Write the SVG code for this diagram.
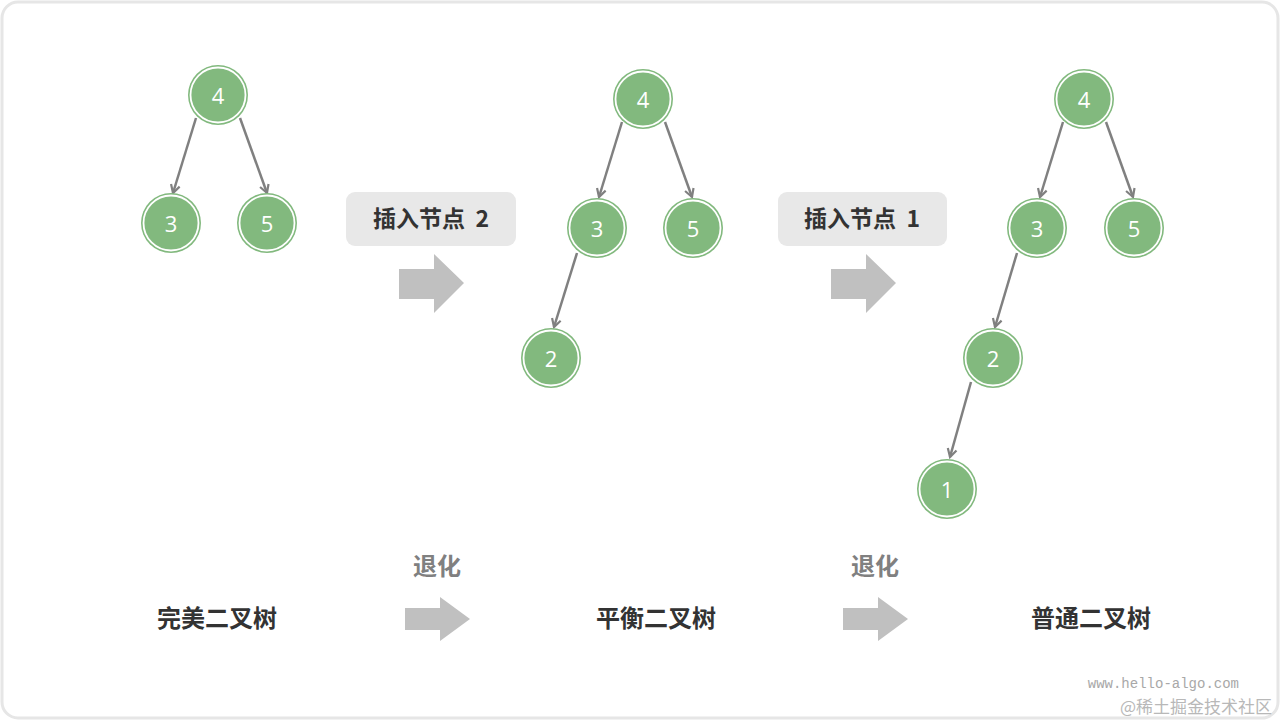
<svg xmlns="http://www.w3.org/2000/svg" width="1280" height="720" viewBox="0 0 1280 720">
<style>
.bg{fill:#ffffff;stroke:#e6e6e6;stroke-width:3}
.nc{fill:#82b97e}
.nr{fill:none;stroke:#ffffff;stroke-width:1.8}
.nt{font-family:"Open Sans","Liberation Sans",sans-serif;font-size:22px;fill:#ffffff;text-anchor:middle;dominant-baseline:central}
.e{stroke:#808080;stroke-width:2.5;fill:none;marker-end:url(#ah)}
.box{fill:#e8e8e8}
.bt{font-family:"Noto Sans CJK SC","Noto Sans",sans-serif;font-size:23px;font-weight:bold;fill:#333333;text-anchor:middle;dominant-baseline:central}
.gt{font-family:"Noto Sans CJK SC","Noto Sans",sans-serif;font-size:24px;font-weight:bold;fill:#808080;text-anchor:middle;dominant-baseline:central}
.lt{font-family:"Noto Sans CJK SC","Noto Sans",sans-serif;font-size:24px;font-weight:bold;fill:#333333;text-anchor:middle;dominant-baseline:central}
.ba{fill:#c0c0c0}
</style>
<defs>
<marker id="ah" viewBox="0 0 12 12" refX="10" refY="6" markerWidth="12" markerHeight="12" markerUnits="userSpaceOnUse" orient="auto">
<path d="M2,1.5 L10,6 L2,10.5" fill="none" stroke="#808080" stroke-width="2.2" stroke-linejoin="miter"/>
</marker>
</defs>
<rect class="bg" x="2" y="2" width="1276" height="716" rx="16"/>
<g id="connectors">
<line class="e" x1="196" y1="118" x2="173" y2="193"/>
<line class="e" x1="240" y1="118" x2="267" y2="193"/>
<line class="e" x1="622" y1="122" x2="599" y2="197"/>
<line class="e" x1="665" y1="122" x2="692" y2="197"/>
<line class="e" x1="577" y1="253" x2="554" y2="327"/>
<line class="e" x1="1063" y1="122" x2="1040" y2="197"/>
<line class="e" x1="1106" y1="122" x2="1133" y2="197"/>
<line class="e" x1="1017" y1="253" x2="995" y2="327"/>
<line class="e" x1="971" y1="382" x2="950" y2="457"/>
</g>
<g id="t1n4"><circle class="nc" cx="218" cy="95" r="30"/><circle class="nr" cx="218" cy="95" r="27.5"/><text class="nt" x="218" y="95">4</text></g>
<g id="t1n3"><circle class="nc" cx="171" cy="223" r="30"/><circle class="nr" cx="171" cy="223" r="27.5"/><text class="nt" x="171" y="223">3</text></g>
<g id="t1n5"><circle class="nc" cx="267" cy="223" r="30"/><circle class="nr" cx="267" cy="223" r="27.5"/><text class="nt" x="267" y="223">5</text></g>
<g id="t2n4"><circle class="nc" cx="643" cy="99" r="30"/><circle class="nr" cx="643" cy="99" r="27.5"/><text class="nt" x="643" y="99">4</text></g>
<g id="t2n3"><circle class="nc" cx="597" cy="228" r="30"/><circle class="nr" cx="597" cy="228" r="27.5"/><text class="nt" x="597" y="228">3</text></g>
<g id="t2n5"><circle class="nc" cx="693" cy="228" r="30"/><circle class="nr" cx="693" cy="228" r="27.5"/><text class="nt" x="693" y="228">5</text></g>
<g id="t2n2"><circle class="nc" cx="551" cy="358" r="30"/><circle class="nr" cx="551" cy="358" r="27.5"/><text class="nt" x="551" y="358">2</text></g>
<g id="t3n4"><circle class="nc" cx="1084" cy="99" r="30"/><circle class="nr" cx="1084" cy="99" r="27.5"/><text class="nt" x="1084" y="99">4</text></g>
<g id="t3n3"><circle class="nc" cx="1037" cy="228" r="30"/><circle class="nr" cx="1037" cy="228" r="27.5"/><text class="nt" x="1037" y="228">3</text></g>
<g id="t3n5"><circle class="nc" cx="1134" cy="228" r="30"/><circle class="nr" cx="1134" cy="228" r="27.5"/><text class="nt" x="1134" y="228">5</text></g>
<g id="t3n2"><circle class="nc" cx="993" cy="358" r="30"/><circle class="nr" cx="993" cy="358" r="27.5"/><text class="nt" x="993" y="358">2</text></g>
<g id="t3n1"><circle class="nc" cx="947" cy="489" r="30"/><circle class="nr" cx="947" cy="489" r="27.5"/><text class="nt" x="947" y="489">1</text></g>
<g id="step1">
<rect class="box" x="346" y="192" width="170" height="54" rx="9"/>
<text class="bt" x="431" y="217" xml:space="preserve">插入节点  2</text>
<path class="ba" d="M399,269 H434 V254 L464,283 L434,313 V299 H399 Z"/>
</g>
<g id="step2">
<rect class="box" x="778" y="192" width="169" height="54" rx="9"/>
<text class="bt" x="862" y="217" xml:space="preserve">插入节点  1</text>
<path class="ba" d="M831,269 H866 V254 L896,283 L866,313 V299 H831 Z"/>
</g>
<g id="deg1">
<text class="gt" x="437" y="564">退化</text>
<path class="ba" d="M405,608 H440 V597 L470,619 L440,641 V630 H405 Z"/>
</g>
<g id="deg2">
<text class="gt" x="875" y="564">退化</text>
<path class="ba" d="M843,608 H878 V597 L908,619 L878,641 V630 H843 Z"/>
</g>
<text class="lt" x="217" y="616">完美二叉树</text>
<text class="lt" x="656" y="616">平衡二叉树</text>
<text class="lt" x="1091" y="616">普通二叉树</text>
<text x="1239" y="688" font-family="Liberation Mono,monospace" font-size="14" fill="#a8a8a8" text-anchor="end">www.hello-algo.com</text>
<text x="1272" y="713" font-family="Noto Sans CJK SC,sans-serif" font-size="17" fill="#b8b8b8" text-anchor="end">@稀土掘金技术社区</text>
</svg>
